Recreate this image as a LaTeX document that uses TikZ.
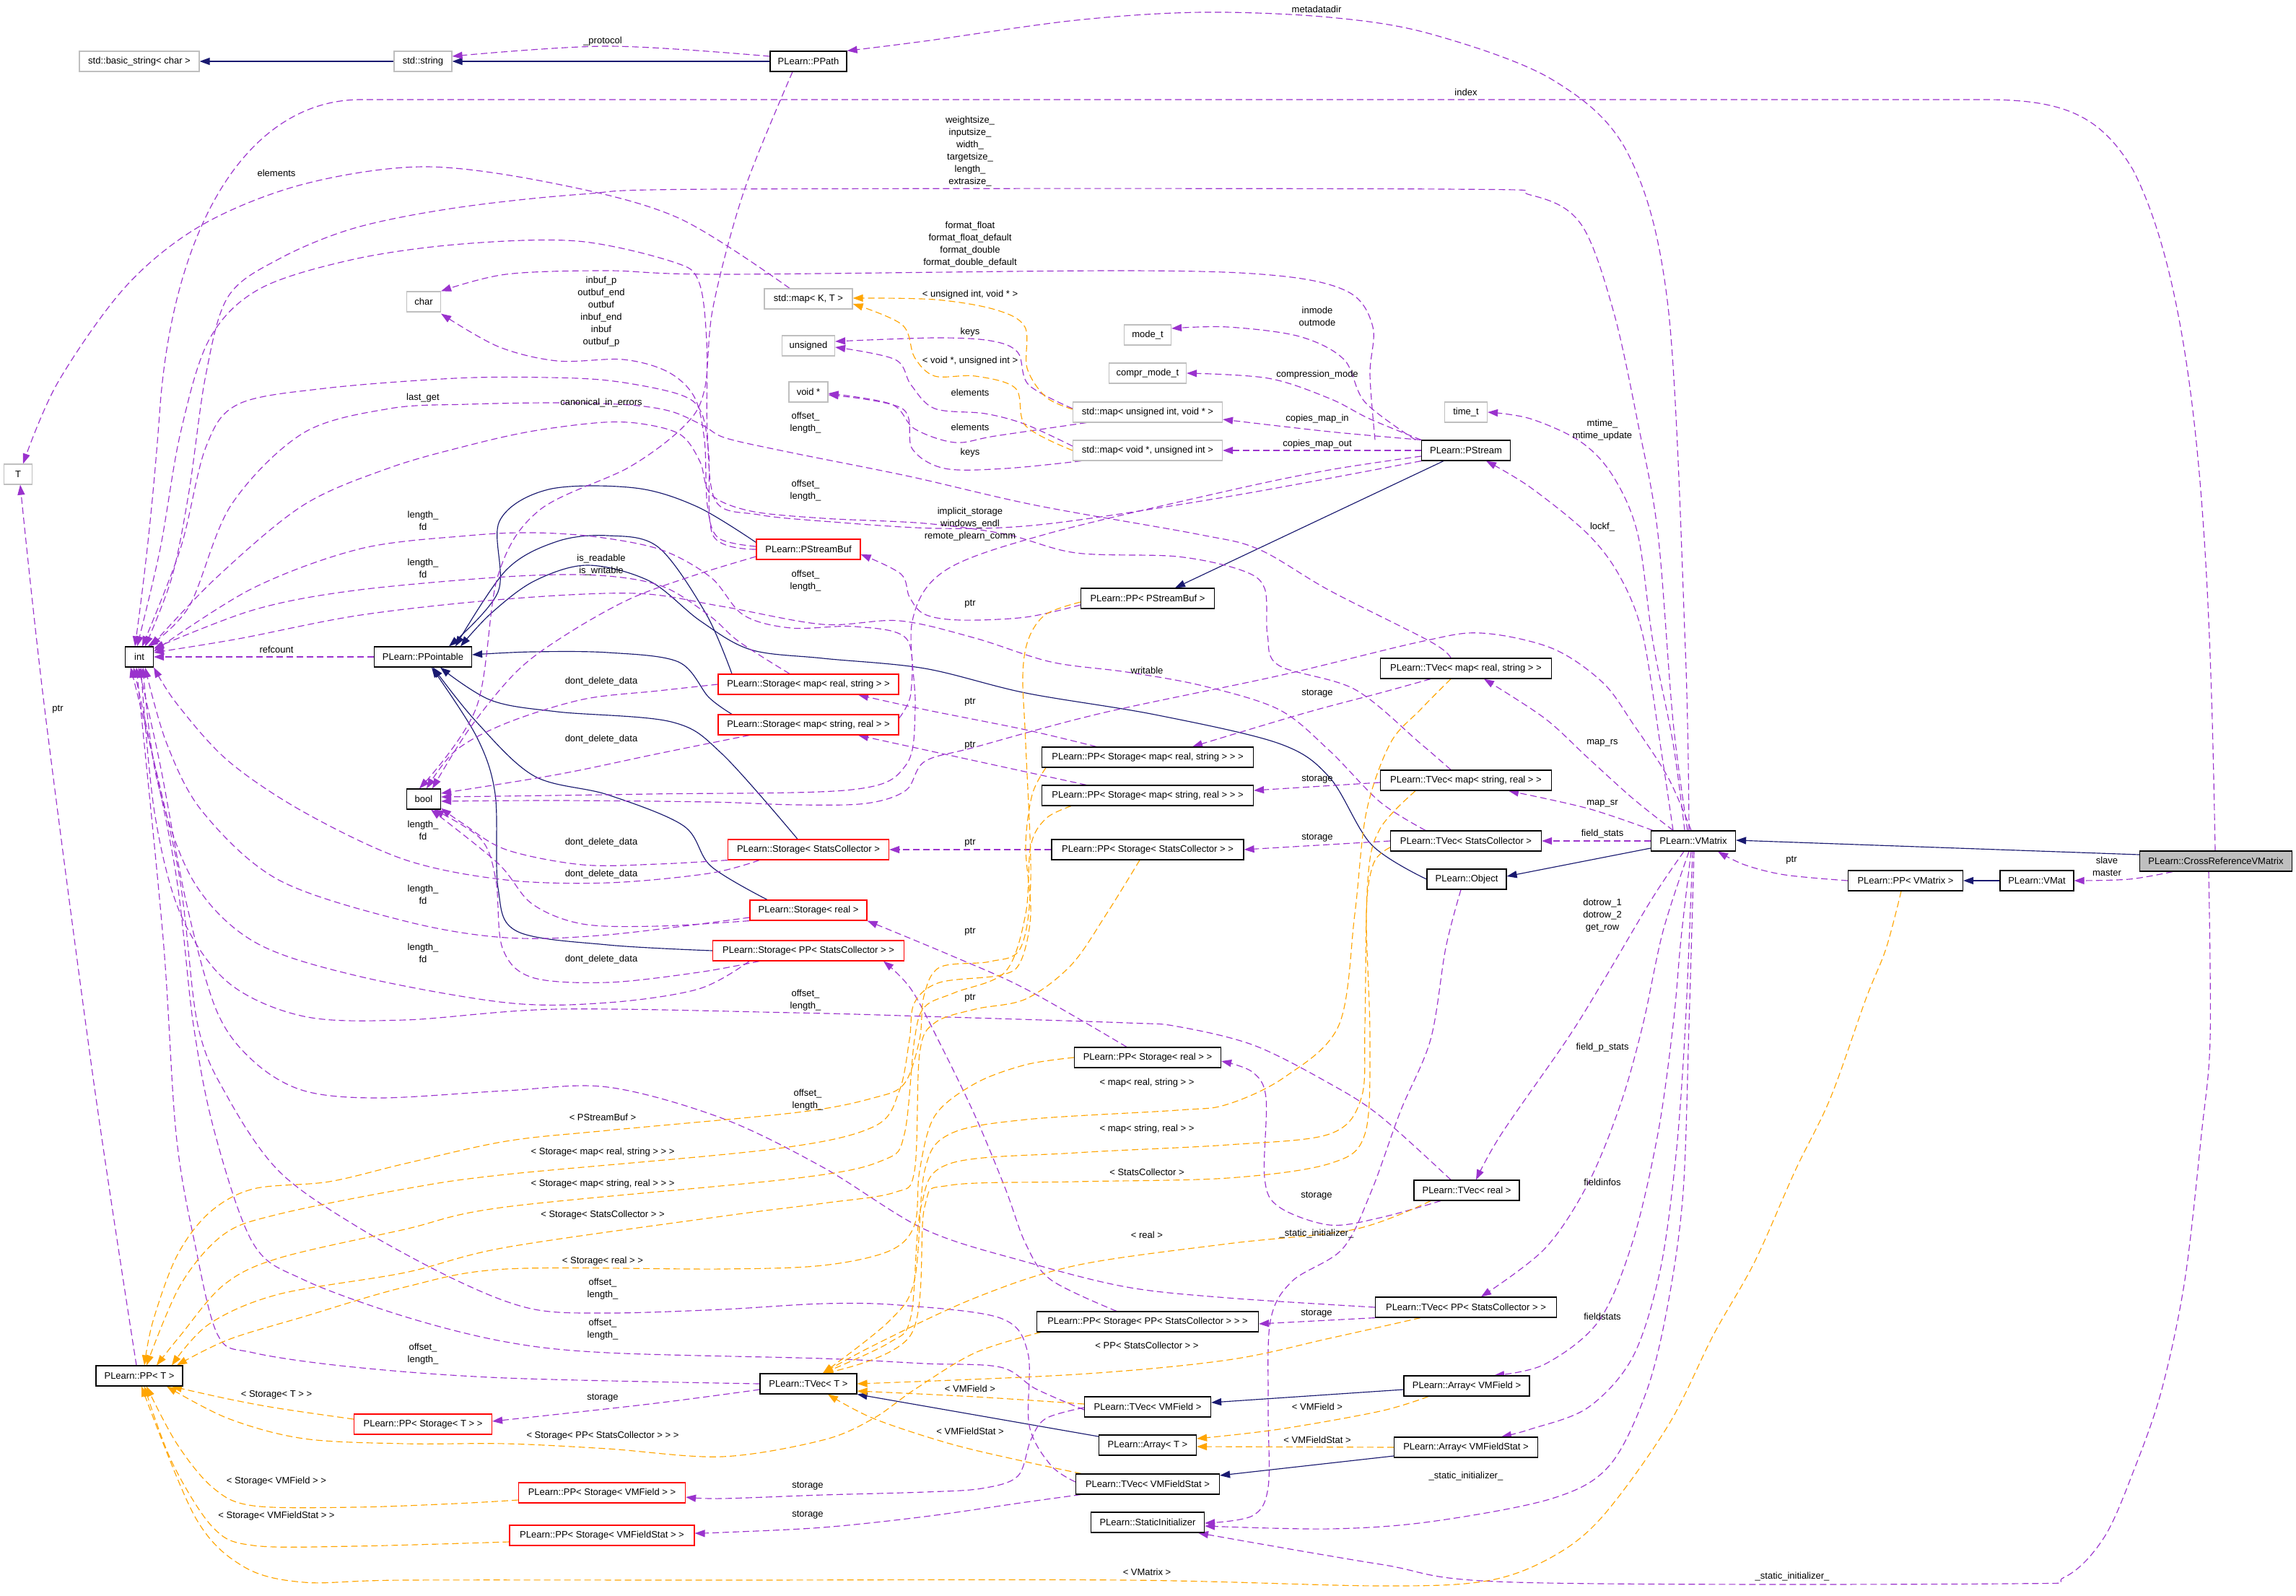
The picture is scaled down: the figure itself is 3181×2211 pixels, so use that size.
\documentclass[tikz,border=0pt]{standalone}
\usepackage{fontspec}
\newfontfamily\dxsans{Liberation Sans}
\newcommand\dxnode{\dxsans\fontsize{13}{17}\selectfont}
\usetikzlibrary{arrows.meta}
\definecolor{purp}{HTML}{9A32CD}
\definecolor{orng}{HTML}{FFA500}
\definecolor{navy}{HTML}{191970}
\definecolor{gborder}{HTML}{BFBFBF}
\pgfdeclarelayer{bgfill}
\pgfdeclarelayer{edges}
\pgfsetlayers{bgfill,edges,main}
\begin{document}
\begin{tikzpicture}[x=1pt,y=-1pt,
  box/.style={rectangle,minimum height=28pt,inner xsep=4pt,inner ysep=0pt,font=\dxnode,line width=1.2pt,fill=white},
  bbox/.style={box,draw=black},
  gbox/.style={box,draw=gborder},
  rbox/.style={box,draw=red},
  lbl/.style={font=\dxnode,align=center,inner sep=0pt},
  usage/.style={draw=purp,line width=1.15pt,dash pattern=on 9pt off 5pt,-{Triangle[length=14pt,width=10pt]}},
  tmpl/.style={draw=orng,line width=1.15pt,dash pattern=on 9pt off 5pt,-{Triangle[length=14pt,width=10pt]}},
  inh/.style={draw=navy,line width=1.15pt,-{Triangle[length=14pt,width=10pt]}},
  sm/.style={smooth,tension=0.55}]
\useasboundingbox (0,0) rectangle (3181,2211);
\begin{pgfonlayer}{bgfill}
\fill[white] (0,0) rectangle (3181,2211);
\end{pgfonlayer}
% ---------- nodes ----------
\node[gbox,minimum width=166] (bstr) at (193,85) {std::basic\_string< char >};
\node[gbox,minimum width=80] (sstr) at (586,85) {std::string};
\node[bbox,minimum width=106] (ppath) at (1120,85) {PLearn::PPath};
\node[gbox,minimum width=47] (chr) at (587,418) {char};
\node[gbox,minimum width=39] (T) at (25,657) {T};
\node[gbox,minimum width=122] (mapKT) at (1120,414) {std::map< K, T >};
\node[gbox,minimum width=73] (uns) at (1120,479) {unsigned};
\node[gbox,minimum width=54] (voidp) at (1120,543) {void *};
\node[gbox,minimum width=65] (modet) at (1590,464) {mode\_t};
\node[gbox,minimum width=107] (comprt) at (1590,517) {compr\_mode\_t};
\node[gbox,minimum width=207] (mapuv) at (1590,571) {std::map< unsigned int, void * >};
\node[gbox,minimum width=207] (mapvu) at (1590,624) {std::map< void *, unsigned int >};
\node[gbox,minimum width=59] (timet) at (2031,571) {time\_t};
\node[bbox,minimum width=123] (pstream) at (2031,624) {PLearn::PStream};
\node[bbox,minimum width=39] (int) at (193,910) {int};
\node[bbox,minimum width=135] (ppointable) at (586,910) {PLearn::PPointable};
\node[bbox,minimum width=47] (bool) at (587,1107) {bool};
\node[rbox,minimum width=144] (psbuf) at (1120,761) {PLearn::PStreamBuf};
\node[rbox,minimum width=250] (stmrs) at (1120,948) {PLearn::Storage< map< real, string > >};
\node[rbox,minimum width=250] (stmsr) at (1120,1004) {PLearn::Storage< map< string, real > >};
\node[rbox,minimum width=223] (stsc) at (1120,1177) {PLearn::Storage< StatsCollector >};
\node[rbox,minimum width=162] (streal) at (1120,1261) {PLearn::Storage< real >};
\node[rbox,minimum width=265] (stppsc) at (1120,1317) {PLearn::Storage< PP< StatsCollector > >};
\node[bbox,minimum width=185] (pppsb) at (1590,829) {PLearn::PP< PStreamBuf >};
\node[bbox,minimum width=293] (ppstmrs) at (1590,1049) {PLearn::PP< Storage< map< real, string > > >};
\node[bbox,minimum width=293] (ppstmsr) at (1590,1102) {PLearn::PP< Storage< map< string, real > > >};
\node[bbox,minimum width=266] (ppstsc) at (1590,1177) {PLearn::PP< Storage< StatsCollector > >};
\node[bbox,minimum width=237] (tvmrs) at (2031,926) {PLearn::TVec< map< real, string > >};
\node[bbox,minimum width=237] (tvmsr) at (2031,1081) {PLearn::TVec< map< string, real > >};
\node[bbox,minimum width=209] (tvsc) at (2031,1165) {PLearn::TVec< StatsCollector >};
\node[bbox,minimum width=110] (object) at (2032,1218) {PLearn::Object};
\node[bbox,minimum width=117] (vmatrix) at (2346,1165) {PLearn::VMatrix};
\node[box,draw=black,fill=gborder,minimum width=211] (xref) at (3070,1193) {PLearn::CrossReferenceVMatrix};
\node[bbox,minimum width=159] (ppvm) at (2640,1220) {PLearn::PP< VMatrix >};
\node[bbox,minimum width=102] (vmat) at (2822,1220) {PLearn::VMat};
\node[bbox,minimum width=120] (ppT) at (193,1906) {PLearn::PP< T >};
\node[rbox,minimum width=191] (ppstT) at (586,1973) {PLearn::PP< Storage< T > >};
\node[rbox,minimum width=231] (ppstvf) at (834,2068) {PLearn::PP< Storage< VMField > >};
\node[rbox,minimum width=256] (ppstvfs) at (834,2127) {PLearn::PP< Storage< VMFieldStat > >};
\node[bbox,minimum width=203] (ppstreal) at (1590,1465) {PLearn::PP< Storage< real > >};
\node[bbox,minimum width=146] (tvreal) at (2032,1649) {PLearn::TVec< real >};
\node[bbox,minimum width=307] (ppstppsc) at (1590,1831) {PLearn::PP< Storage< PP< StatsCollector > > >};
\node[bbox,minimum width=251] (tvppsc) at (2031,1811) {PLearn::TVec< PP< StatsCollector > >};
\node[bbox,minimum width=134] (tvT) at (1120,1917) {PLearn::TVec< T >};
\node[bbox,minimum width=175] (tvvf) at (1590,1949) {PLearn::TVec< VMField >};
\node[bbox,minimum width=135] (arrT) at (1590,2002) {PLearn::Array< T >};
\node[bbox,minimum width=199] (tvvfs) at (1590,2056) {PLearn::TVec< VMFieldStat >};
\node[bbox,minimum width=157] (statinit) at (1590,2109) {PLearn::StaticInitializer};
\node[bbox,minimum width=174] (arrvf) at (2032,1920) {PLearn::Array< VMField >};
\node[bbox,minimum width=199] (arrvfs) at (2031,2005) {PLearn::Array< VMFieldStat >};
% ---------- labels ----------
\node[lbl] (l01) at (835,57) {\_protocol};
\node[lbl] (l02) at (1824,13) {metadatadir};
\node[lbl] (l03) at (2031,128) {index};
\node[lbl] (l04) at (1344,210) {weightsize\_\\inputsize\_\\width\_\\targetsize\_\\length\_\\extrasize\_};
\node[lbl] (l05) at (383,240) {elements};
\node[lbl] (l06) at (1344,339) {format\_float\\format\_float\_default\\format\_double\\format\_double\_default};
\node[lbl] (l07) at (1344,408) {< unsigned int, void * >};
\node[lbl] (l08) at (833,432) {inbuf\_p\\outbuf\_end\\outbuf\\inbuf\_end\\inbuf\\outbuf\_p};
\node[lbl] (l09) at (1825,438) {inmode\\outmode};
\node[lbl] (l10) at (1344,460) {keys};
\node[lbl] (l11) at (1344,500) {< void *, unsigned int >};
\node[lbl] (l12) at (1825,519) {compression\_mode};
\node[lbl] (l13) at (1344,544) {elements};
\node[lbl] (l14) at (586,551) {last\_get};
\node[lbl] (l15) at (833,558) {canonical\_in\_errors};
\node[lbl] (l16) at (1825,580) {copies\_map\_in};
\node[lbl] (l17) at (1116,586) {offset\_\\length\_};
\node[lbl] (l18) at (1344,592) {elements};
\node[lbl] (l19) at (2220,596) {mtime\_\\mtime\_update};
\node[lbl] (l20) at (1825,615) {copies\_map\_out};
\node[lbl] (l21) at (1344,627) {keys};
\node[lbl] (l22) at (1116,680) {offset\_\\length\_};
\node[lbl] (l23) at (586,721) {length\_\\fd};
\node[lbl] (l24) at (1344,726) {implicit\_storage\\windows\_endl\\remote\_plearn\_comm};
\node[lbl] (l25) at (2220,730) {lockf\_};
\node[lbl] (l26) at (833,783) {is\_readable\\is\_writable};
\node[lbl] (l27) at (586,787) {length\_\\fd};
\node[lbl] (l28) at (1116,805) {offset\_\\length\_};
\node[lbl] (l29) at (1344,837) {ptr};
\node[lbl] (l30) at (383,900) {refcount};
\node[lbl] (l31) at (1589,929) {writable};
\node[lbl] (l32) at (1825,961) {storage};
\node[lbl] (l33) at (833,944) {dont\_delete\_data};
\node[lbl] (l34) at (1344,973) {ptr};
\node[lbl] (l35) at (80,983) {ptr};
\node[lbl] (l36) at (833,1024) {dont\_delete\_data};
\node[lbl] (l37) at (2220,1029) {map\_rs};
\node[lbl] (l38) at (1344,1033) {ptr};
\node[lbl] (l39) at (1825,1080) {storage};
\node[lbl] (l40) at (2220,1113) {map\_sr};
\node[lbl] (l41) at (586,1150) {length\_\\fd};
\node[lbl] (l42) at (2220,1155) {field\_stats};
\node[lbl] (l43) at (1825,1161) {storage};
\node[lbl] (l44) at (833,1167) {dont\_delete\_data};
\node[lbl] (l45) at (1344,1168) {ptr};
\node[lbl] (l46) at (2482,1192) {ptr};
\node[lbl] (l47) at (2919,1200) {slave\\master};
\node[lbl] (l48) at (833,1211) {dont\_delete\_data};
\node[lbl] (l49) at (586,1239) {length\_\\fd};
\node[lbl] (l50) at (2220,1268) {dotrow\_1\\dotrow\_2\\get\_row};
\node[lbl] (l51) at (1344,1291) {ptr};
\node[lbl] (l52) at (586,1320) {length\_\\fd};
\node[lbl] (l53) at (833,1329) {dont\_delete\_data};
\node[lbl] (l54) at (1344,1383) {ptr};
\node[lbl] (l55) at (1116,1386) {offset\_\\length\_};
\node[lbl] (l56) at (2220,1451) {field\_p\_stats};
\node[lbl] (l57) at (1589,1500) {< map< real, string > >};
\node[lbl] (l58) at (1119,1524) {offset\_\\length\_};
\node[lbl] (l59) at (835,1548) {< PStreamBuf >};
\node[lbl] (l60) at (1589,1564) {< map< string, real > >};
\node[lbl] (l61) at (835,1596) {< Storage< map< real, string > > >};
\node[lbl] (l62) at (1589,1624) {< StatsCollector >};
\node[lbl] (l63) at (2220,1638) {fieldinfos};
\node[lbl] (l64) at (835,1640) {< Storage< map< string, real > > >};
\node[lbl] (l65) at (1824,1657) {storage};
\node[lbl] (l66) at (835,1683) {< Storage< StatsCollector > >};
\node[lbl] (l67) at (1824,1709) {\_static\_initializer\_};
\node[lbl] (l68) at (1589,1711) {< real >};
\node[lbl] (l69) at (835,1747) {< Storage< real > >};
\node[lbl] (l70) at (835,1786) {offset\_\\length\_};
\node[lbl] (l71) at (1824,1820) {storage};
\node[lbl] (l72) at (2220,1824) {fieldstats};
\node[lbl] (l73) at (835,1842) {offset\_\\length\_};
\node[lbl] (l74) at (1589,1864) {< PP< StatsCollector > >};
\node[lbl] (l75) at (586,1876) {offset\_\\length\_};
\node[lbl] (l76) at (1344,1924) {< VMField >};
\node[lbl] (l77) at (383,1932) {< Storage< T > >};
\node[lbl] (l78) at (835,1937) {storage};
\node[lbl] (l79) at (1825,1949) {< VMField >};
\node[lbl] (l80) at (1344,1983) {< VMFieldStat >};
\node[lbl] (l81) at (835,1989) {< Storage< PP< StatsCollector > > >};
\node[lbl] (l82) at (1825,1995) {< VMFieldStat >};
\node[lbl] (l83) at (2031,2045) {\_static\_initializer\_};
\node[lbl] (l84) at (383,2052) {< Storage< VMField > >};
\node[lbl] (l85) at (1119,2059) {storage};
\node[lbl] (l86) at (1119,2099) {storage};
\node[lbl] (l87) at (383,2100) {< Storage< VMFieldStat > >};
\node[lbl] (l88) at (1589,2178) {< VMatrix >};
\node[lbl] (l89) at (2483,2184) {\_static\_initializer\_};
% ---------- edges ----------
\begin{pgfonlayer}{edges}
% inheritance
\draw[inh] (sstr.west) -- (bstr.east);
\draw[inh] (ppath.west) -- (sstr.east);
\draw[inh] ([xshift=-31pt]pstream.south) -- ([xshift=38pt]pppsb.north);
\draw[inh] plot[sm] coordinates {([yshift=-5pt]psbuf.north west) (966,702) (880,676) (760,678) (692,722) (690,820) ([xshift=36pt]ppointable.north)};
\draw[inh] plot[sm] coordinates {([xshift=-106pt]stmrs.north) (978,850) (912,758) (842,742) (772,750) (701,790) ([xshift=45pt]ppointable.north)};
\draw[inh] plot[sm] coordinates {([xshift=-106pt]stmsr.north) (982,966) (940,917) (842,904) (737,903) ([yshift=3pt]ppointable.east)};
\draw[inh] plot[sm] coordinates {([xshift=-15pt]stsc.north) (1000,1044) (930,1000) (772,986) (680,970) ([xshift=24pt]ppointable.south)};
\draw[inh] plot[sm] coordinates {([xshift=-57pt]streal.north) (985,1200) (947,1144) (842,1101) (740,1075) (660,1000) ([xshift=14pt]ppointable.south)};
\draw[inh] plot[sm] coordinates {(stppsc.west) (842,1309) (716,1290) (690,1230) (686,1100) (660,1020) ([xshift=12pt]ppointable.south)};
\draw[inh] plot[sm] coordinates {(object.west) (1900,1170) (1842,1077) (1772,1030) (1600,990) (1421,960) (1281,926) (1140,912) (1040,900) (970,860) (900,805) (814,783) (740,805) (680,850) ([xshift=52pt]ppointable.north)};
\draw[inh] ([yshift=-10pt]vmatrix.west) -- ([yshift=4pt]object.east);
\draw[inh] ([yshift=9pt]xref.west) -- ([yshift=1pt]vmatrix.east);
\draw[inh] (vmat.west) -- (ppvm.east);
\draw[inh] ([yshift=-5pt]arrvf.west) -- ([yshift=6pt]tvvf.east);
\draw[inh] ([yshift=12pt]arrT.west) -- (tvT.south east);
\draw[inh] ([yshift=-12pt]arrvfs.west) -- ([yshift=12pt]tvvfs.east);
% usage (purple)
\draw[usage] plot[sm] coordinates {([yshift=7pt]ppath.west) (842,64) ([yshift=7pt]sstr.east)};
\draw[usage] plot[sm] coordinates {([xshift=-6pt]vmatrix.north) (2335,900) (2311,425) (2255,212) (2150,110) (1982,47) (1842,24) (1666,17) (1491,28) (1281,57) (ppath.north east)};
\draw[usage] ([xshift=-1pt]xref.north) .. controls (3062,800) and (3050,420) .. (2955,235) .. controls (2910,160) and (2860,138) .. (2750,138) -- (500,138) .. controls (350,138) and (243,300) .. (222,560) .. controls (212,700) and (200,800) .. ([xshift=-6pt]int.north);
\draw[usage] plot[sm] coordinates {([xshift=-8pt]vmatrix.north) (2318,1000) (2297,740) (2270,590) (2235,430) (2190,310) (2120,270) (2000,262) (1000,262) (807,269) (631,288) (491,316) (386,359) (316,411) (285,520) (262,680) (238,800) ([xshift=8pt]int.north)};
\draw[usage] plot[sm] coordinates {([xshift=-12pt]vmatrix.north) (2318,1030) (2290,889) (2269,740) (2235,660) (2190,612) (2120,580) (timet.east)};
\draw[usage] plot[sm] coordinates {([xshift=-28pt]vmatrix.north) (2300,1030) (2276,880) (2245,800) (2200,740) (2120,675) ([xshift=28pt]pstream.south)};
\draw[usage] plot[sm] coordinates {([xshift=-28pt]vmatrix.north) (2262,1106) (2199,1049) (2140,995) ([xshift=25pt]tvmrs.south)};
\draw[usage] plot[sm] coordinates {([xshift=-56pt]vmatrix.north) (2200,1120) ([xshift=59pt]tvmsr.south)};
\draw[usage] (vmatrix.west) -- (tvsc.east);
\draw[usage] plot[sm] coordinates {([xshift=-3pt]vmatrix.north) (2311,1077) (2262,1002) (2220,945) (2150,898) (2052,877) (1968,889) (1772,936) (1526,988) (1351,1035) (1281,1055) (1255,1095) (1200,1113) (1105,1115) (982,1111) (772,1109) ([yshift=-3pt]bool.east)};
\draw[usage] plot[sm] coordinates {([xshift=-13pt]vmatrix.south) (2290,1243) (2220,1361) (2171,1440) (2080,1571) ([xshift=13pt]tvreal.north)};
\draw[usage] plot[sm] coordinates {([xshift=-6pt]vmatrix.south) (2304,1290) (2276,1420) (2245,1530) (2200,1640) (2140,1730) ([xshift=21pt]tvppsc.north)};
\draw[usage] plot[sm] coordinates {([xshift=-3pt]vmatrix.south) (2329,1300) (2318,1420) (2297,1570) (2262,1720) (2215,1830) (2140,1890) ([xshift=38pt]arrvf.north)};
\draw[usage] plot[sm] coordinates {([xshift=-1pt]vmatrix.south) (2335,1420) (2322,1600) (2300,1760) (2262,1880) (2200,1950) (2120,1980) ([xshift=49pt]arrvfs.north)};
\draw[usage] plot[sm] coordinates {([xshift=1pt]vmatrix.south) (2340,1420) (2332,1650) (2312,1800) (2282,1925) (2230,2030) (2150,2076) (1982,2108) (1842,2118) ([yshift=-5pt]statinit.east)};
\draw[usage] plot[sm] coordinates {([xshift=-10pt]xref.south) (3062,1440) (3050,1571) (3027,1773) (2995,1925) (2957,2035) (2915,2130) (2860,2185) (2780,2194) (2100,2192) (1912,2167) ([xshift=70pt]statinit.south)};
\draw[usage] plot[sm] coordinates {([xshift=-8pt]object.south) (2003,1313) (1982,1440) (1940,1540) (1900,1650) (1860,1730) (1790,1775) (1760,1830) (1757,1950) (1757,2060) (1735,2100) ([yshift=-1pt]statinit.east)};
\draw[usage] plot[sm] coordinates {(ppvm.west) (2473,1212) (2417,1198) ([xshift=34pt]vmatrix.south)};
\draw[usage] plot[sm] coordinates {([xshift=-60pt]xref.south) (2950,1218) (vmat.east)};
\draw[usage] plot[sm] coordinates {([xshift=-70pt]pstream.north) (1891,557) (1862,498) (1800,466) (1701,453) ([yshift=9pt]modet.east)};
\draw[usage] plot[sm] coordinates {([xshift=-62pt]pstream.north) (1897,580) (1842,552) (1757,524) (comprt.east)};
\draw[usage] plot[sm] coordinates {(pstream.north west) (1842,598) ([yshift=-10pt]mapuv.east)};
\draw[usage] (pstream.west) -- (mapvu.east);
\draw[usage] plot[sm] coordinates {([xshift=-126pt]pstream.north) (1898,519) (1902,453) (1869,405) (1771,382) (1561,375) (1000,380) (842,375) (701,380) (chr.north east)};
\draw[usage] plot[sm] coordinates {([yshift=-8pt]pstream.west) (1842,651) (1701,680) (1449,740) (1310,790) (1264,860) (1268,980) (1255,1060) (1180,1094) (900,1100) ([yshift=3pt]bool.east)};
\draw[usage] plot[sm] coordinates {(pstream.south west) (1701,688) (1449,726) (1300,732) (1140,722) (1051,713) (992,695) (980,600) (979,472) (968,390) (933,363) (800,334) (640,338) (491,359) (360,400) (290,470) (250,600) (222,760) ([xshift=-3pt]int.north)};
\draw[usage] plot[sm] coordinates {([yshift=4pt]psbuf.west) (995,745) (980,700) (976,610) (962,550) (925,515) (863,498) (772,500) (690,480) ([yshift=-2pt]chr.south east)};
\draw[usage] plot[sm] coordinates {(psbuf.west) (988,742) (982,630) (971,570) (940,546) (850,528) (761,523) (631,524) (450,538) (330,560) (285,620) (250,760) ([xshift=4pt]int.north)};
\draw[usage] (ppointable.west) -- (int.east);
\draw[usage] plot[sm] coordinates {([xshift=-26pt]stmrs.north) (1024,889) (983,853) (917,812) (828,797) (701,799) (491,818) (351,845) ([yshift=-3pt]int.north east)};
\draw[usage] plot[sm] coordinates {([yshift=9pt]stmsr.east) (1262,960) (1256,885) (1185,868) (1096,870) (1030,852) (985,800) (917,762) (828,744) (739,738) (649,742) (500,760) (350,815) ([yshift=-7pt]int.north east)};
\draw[usage] plot[sm] coordinates {([xshift=-68pt]stsc.south) (982,1210) (842,1223) (701,1219) (561,1191) (421,1125) (316,1054) (245,975) (int.south east)};
\draw[usage] plot[sm] coordinates {([yshift=-10pt]streal.west) (842,1295) (701,1299) (561,1276) (386,1219) (281,1125) (231,1030) ([xshift=8pt]int.south)};
\draw[usage] plot[sm] coordinates {([xshift=-82pt]stppsc.south) (968,1370) (842,1389) (701,1389) (491,1351) (351,1304) (267,1219) (217,1078) ([xshift=5pt]int.south)};
\draw[usage] plot[sm] coordinates {([xshift=-22pt]tvreal.north) (1912,1546) (1842,1501) (1737,1448) (1631,1422) (1561,1417) (1281,1408) (1100,1403) (772,1398) (561,1413) (421,1408) (316,1361) (250,1266) (214,1125) ([xshift=2pt]int.south)};
\draw[usage] plot[sm] coordinates {(tvppsc.west) (1701,1798) (1561,1783) (1421,1748) (1281,1703) (1140,1617) (1000,1549) (842,1506) (701,1511) (526,1521) (421,1511) (351,1470) (300,1400) (258,1250) (222,1060) ([xshift=-1pt]int.south)};
\draw[usage] plot[sm] coordinates {([xshift=-56pt]tvsc.north) (1912,1111) (1842,1040) (1772,983) (1666,950) (1561,931) (1456,917) (1351,884) (1246,860) (1140,865) (1000,840) (880,822) (700,830) (500,852) (330,885) ([yshift=6pt]int.east)};
\draw[usage] plot[sm] coordinates {([xshift=-21pt]tvmsr.north) (1968,1030) (1877,955) (1772,922) (1756,880) (1752,815) (1720,790) (1631,771) (1491,766) (1393,740) (1281,725) (1140,718) (1040,708) (985,685) (970,640) (944,603) (895,588) (837,585) (739,597) (649,617) (540,648) (420,700) (300,800) ([xshift=16pt]int.north)};
\draw[usage] plot[sm] coordinates {([xshift=-21pt]tvmrs.north) (1982,889) (1842,818) (1744,761) (1659,740) (1435,700) (1260,660) (1096,627) (1006,607) (975,590) (930,570) (872,561) (774,558) (649,560) (540,566) (420,600) (320,700) (262,840) ([xshift=12pt]int.north)};
\draw[usage] plot[sm] coordinates {(tvT.west) (701,1909) (491,1894) (351,1874) (302,1850) (270,1723) (244,1571) (226,1300) ([xshift=-4pt]int.south)};
\draw[usage] plot[sm] coordinates {([yshift=-4pt]tvvf.west) (1435,1924) (1386,1894) (1281,1889) (1140,1882) (842,1874) (701,1859) (561,1824) (421,1773) (351,1723) (298,1571) (268,1420) (242,1200) ([xshift=-8pt]int.south)};
\draw[usage] plot[sm] coordinates {([yshift=3pt]tvvfs.west) (1456,2030) (1426,1975) (1424,1874) (1386,1826) (1246,1808) (1140,1806) (1000,1814) (842,1819) (736,1813) (631,1773) (491,1697) (386,1622) (316,1521) (274,1420) (246,1200) ([xshift=-12pt]int.south)};
\draw[usage] plot[sm] coordinates {([xshift=-26pt]mapKT.north) (940,302) (772,255) (589,231) (421,255) (281,311) (175,396) (80,530) ([xshift=7pt]T.north)};
\draw[usage] plot[sm] coordinates {([xshift=-4pt]ppT.north) (130,1500) (62,983) ([xshift=3pt]T.south)};
\draw[usage] plot[sm] coordinates {([xshift=-22pt]ppath.south) (1031,264) (988,425) (976,540) (948,590) (872,647) (747,707) (690,797) (660,980) ([xshift=-6pt]bool.north)};
\draw[usage] plot[sm] coordinates {([yshift=-10pt]psbuf.west) (962,797) (872,830) (783,880) (716,930) (650,1010) ([xshift=12pt]bool.north)};
\draw[usage] plot[sm] coordinates {(stmrs.west) (912,957) (807,969) (701,1002) (631,1040) ([xshift=4pt]bool.north)};
\draw[usage] plot[sm] coordinates {([xshift=-82pt]stmsr.south) (912,1044) (772,1073) ([yshift=8pt]bool.east)};
\draw[usage] plot[sm] coordinates {(stsc.south west) (912,1197) (807,1198) (701,1177) (640,1140) ([yshift=2pt]bool.south east)};
\draw[usage] plot[sm] coordinates {([xshift=-82pt]streal.south) (912,1283) (807,1280) (737,1252) (690,1196) ([xshift=10pt]bool.south)};
\draw[usage] plot[sm] coordinates {([xshift=-68pt]stppsc.south) (968,1347) (842,1361) (737,1354) (696,1313) (687,1219) (666,1162) ([xshift=14pt]bool.south)};
\draw[usage] plot[sm] coordinates {([yshift=-9pt]pppsb.west) (1421,855) (1330,859) (1281,851) (1260,827) (1248,795) ([yshift=-7pt]psbuf.east)};
\draw[usage] plot[sm] coordinates {([xshift=-71pt]ppstmrs.north) (1421,1011) (1281,983) ([xshift=69pt]stmrs.south)};
\draw[usage] plot[sm] coordinates {([xshift=-85pt]ppstmsr.north) (1351,1054) ([xshift=69pt]stmsr.south)};
\draw[usage] (ppstsc.west) -- (stsc.east);
\draw[usage] plot[sm] coordinates {([xshift=-29pt]ppstreal.north) (1421,1370) (1316,1323) (streal.south east)};
\draw[usage] plot[sm] coordinates {([xshift=-43pt]ppstppsc.north) (1456,1773) (1421,1723) (1393,1647) (1351,1546) (1302,1445) (1262,1370) ([xshift=104pt]stppsc.south)};
\draw[usage] plot[sm] coordinates {([xshift=-49pt]tvmrs.south) (1912,960) (1807,988) ([xshift=62pt]ppstmrs.north)};
\draw[usage] ([yshift=-3pt]tvmsr.west) -- ([yshift=7pt]ppstmsr.east);
\draw[usage] (tvsc.west) -- (ppstsc.east);
\draw[usage] plot[sm] coordinates {([xshift=-36pt]tvreal.south) (1912,1687) (1842,1697) (1772,1672) (1752,1632) (1754,1521) (1735,1485) ([yshift=-5pt]ppstreal.east)};
\draw[usage] (tvppsc.south west) -- ([yshift=-3pt]ppstppsc.east);
\draw[usage] plot[sm] coordinates {([yshift=-8pt]tvT.west) (900,1945) ([yshift=4pt]ppstT.east)};
\draw[usage] plot[sm] coordinates {([yshift=-1pt]tvvf.west) (1449,1965) (1428,1995) (1410,2045) (1360,2062) (1281,2067) (1140,2071) (1000,2076) ([yshift=-6pt]ppstvf.east)};
\draw[usage] plot[sm] coordinates {([xshift=7pt]tvvfs.south west) (1421,2081) (1281,2101) (1140,2116) (1000,2123) ([yshift=3pt]ppstvfs.east)};
\draw[usage] plot[sm] coordinates {([yshift=5pt]mapuv.west) (1425,533) (1410,488) (1372,472) (1295,468) ([yshift=6pt]uns.east)};
\draw[usage] plot[sm] coordinates {([yshift=6pt]mapvu.west) (1421,588) (1365,573) (1295,566) (1262,533) (1240,498) ([yshift=-2pt]uns.east)};
\draw[usage] plot[sm] coordinates {([xshift=-85pt]mapuv.south) (1379,604) (1323,613) (1267,594) (1235,560) ([yshift=-2pt]voidp.east)};
\draw[usage] plot[sm] coordinates {([xshift=-92pt]mapvu.south) (1393,649) (1309,649) (1264,622) (1250,566) ([yshift=-4pt]voidp.east)};
% template instances (orange)
\draw[tmpl] plot[sm] coordinates {([yshift=4pt]mapuv.west) (1449,550) (1423,510) (1420,453) (1379,429) (1295,415) ([yshift=1pt]mapKT.east)};
\draw[tmpl] plot[sm] coordinates {(mapvu.west) (1421,590) (1407,538) (1351,521) (1295,521) (1267,495) (1250,450) ([yshift=-7pt]mapKT.east)};
\draw[tmpl] plot[sm] coordinates {([yshift=-5pt]pppsb.west) (1449,851) (1425,885) (1417,936) (1421,1030) (1428,1219) (1414,1313) (1372,1332) (1302,1340) (1280,1380) (1274,1440) (1253,1501) (1210,1521) (1105,1541) (842,1566) (701,1581) (561,1612) (456,1637) (351,1647) (290,1680) (245,1740) (212,1830) ([xshift=7pt]ppT.north)};
\draw[tmpl] plot[sm] coordinates {([xshift=-141pt]ppstmrs.south) (1430,1101) (1421,1172) (1428,1266) (1414,1332) (1386,1351) (1302,1361) (1267,1389) (1260,1440) (1246,1511) (1210,1561) (1070,1592) (701,1627) (561,1647) (386,1682) (310,1710) (250,1780) ([xshift=10pt]ppT.north)};
\draw[tmpl] plot[sm] coordinates {([xshift=-106pt]ppstmsr.south) (1449,1134) (1428,1172) (1421,1266) (1393,1346) (1323,1375) (1281,1395) (1267,1440) (1253,1571) (1224,1607) (1105,1632) (701,1672) (561,1703) (386,1743) (310,1780) (250,1850) ([xshift=24pt]ppT.north)};
\draw[tmpl] plot[sm] coordinates {([xshift=-11pt]ppstsc.south) (1533,1266) (1484,1337) (1421,1384) (1351,1398) (1295,1417) (1274,1460) (1267,1622) (1239,1652) (1140,1667) (1000,1685) (701,1728) (561,1763) (386,1793) (290,1834) ([xshift=45pt]ppT.north)};
\draw[tmpl] plot[sm] coordinates {(ppstreal.west) (1421,1475) (1351,1501) (1295,1546) (1274,1622) (1267,1697) (1232,1733) (1140,1753) (1000,1758) (701,1758) (561,1783) (421,1824) (316,1856) ([xshift=52pt]ppT.north)};
\draw[tmpl] plot[sm] coordinates {([xshift=-148pt]ppstppsc.south) (1351,1874) (1267,1925) (1210,1965) (1140,1995) (1000,2018) (842,2007) (701,2000) (561,2000) (421,1993) (316,1965) ([xshift=38pt]ppT.south)};
\draw[tmpl] plot[sm] coordinates {([yshift=7pt]ppstT.west) (386,1951) (316,1938) ([xshift=45pt]ppT.south)};
\draw[tmpl] plot[sm] coordinates {([yshift=-10pt]ppstvf.west) (631,2083) (491,2088) (351,2086) (295,2061) (245,2000) ([xshift=10pt]ppT.south)};
\draw[tmpl] plot[sm] coordinates {([yshift=-9pt]ppstvfs.west) (491,2142) (351,2141) (295,2116) (238,2025) ([xshift=7pt]ppT.south)};
\draw[tmpl] plot[sm] coordinates {([xshift=-6pt]ppvm.south) (2613,1314) (2585,1384) (2536,1521) (2487,1622) (2431,1748) (2374,1849) (2311,1975) (2220,2101) (2150,2157) (2060,2190) (1912,2197) (1561,2189) (1000,2189) (561,2189) (421,2192) (337,2170) (270,2101) ([xshift=3pt]ppT.south)};
\draw[tmpl] plot[sm] coordinates {([xshift=-21pt]tvmrs.south) (1968,983) (1926,1030) (1893,1125) (1877,1266) (1855,1420) (1780,1492) (1700,1530) (1631,1538) (1421,1551) (1316,1571) (1281,1622) (1267,1773) (1232,1830) ([xshift=20pt]tvT.north)};
\draw[tmpl] plot[sm] coordinates {([xshift=-70pt]tvmsr.south) (1912,1148) (1895,1219) (1891,1420) (1886,1521) (1842,1571) (1701,1586) (1491,1597) (1316,1612) (1276,1672) (1262,1824) (1232,1860) ([xshift=20pt]tvT.north)};
\draw[tmpl] plot[sm] coordinates {([yshift=-9pt]tvsc.west) (1903,1196) (1893,1266) (1898,1440) (1891,1571) (1842,1612) (1701,1632) (1491,1637) (1316,1642) (1281,1672) (1262,1849) ([xshift=20pt]tvT.north)};
\draw[tmpl] plot[sm] coordinates {([xshift=-50pt]tvreal.south) (1877,1703) (1701,1723) (1491,1753) (1351,1798) (1210,1864) ([xshift=20pt]tvT.north)};
\draw[tmpl] plot[sm] coordinates {([xshift=-63pt]tvppsc.south) (1842,1854) (1701,1884) (1491,1904) (tvT.east)};
\draw[tmpl] plot[sm] coordinates {([yshift=4pt]tvvf.west) (1351,1935) ([yshift=-10pt]tvT.east)};
\draw[tmpl] plot[sm] coordinates {([xshift=-92pt]tvvfs.north) (1421,2025) (1316,2000) (1210,1965) ([xshift=27pt]tvT.south)};
\draw[tmpl] plot[sm] coordinates {([xshift=-53pt]arrvf.south) (1912,1955) (1772,1980) ([yshift=9pt]arrT.east)};
\draw[tmpl] (arrvfs.west) -- ([yshift=-2pt]arrT.east);
\end{pgfonlayer}
\end{tikzpicture}
\end{document}
